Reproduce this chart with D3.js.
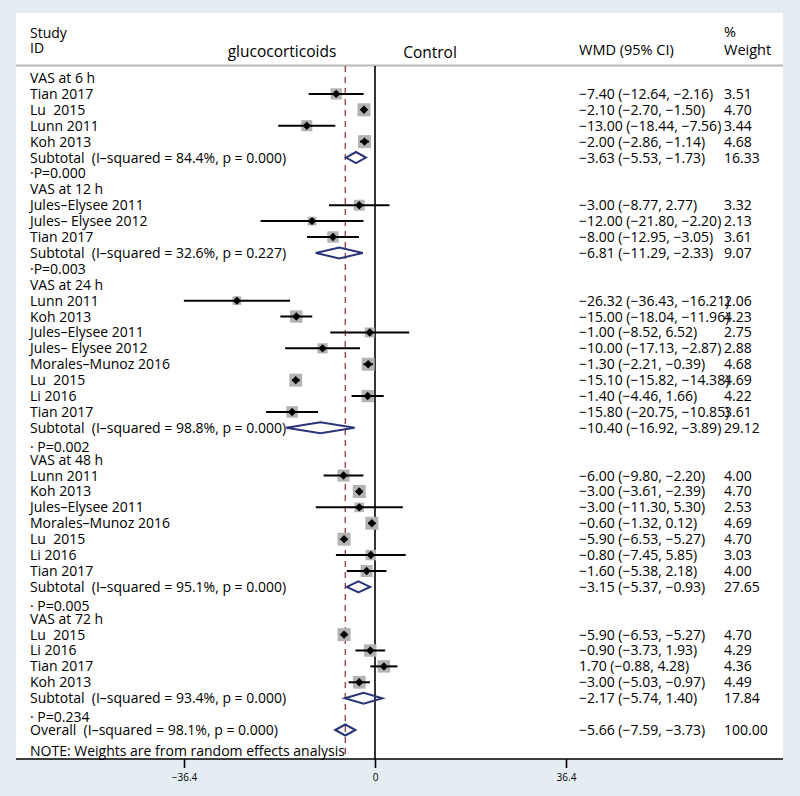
<!DOCTYPE html>
<html><head><meta charset="utf-8">
<script src="https://cdn.jsdelivr.net/npm/d3@7"></script>
<style>
html,body{margin:0;padding:0;background:#e4edf2;}
svg{display:block;}
text{font-family:"Open Sans","Noto Sans",sans-serif;fill:#000;white-space:pre;}
</style></head>
<body>
<script>
// ---------- data ----------
const groupLabels = ["VAS at 6 h","VAS at 12 h","VAS at 24 h","VAS at 48 h","VAS at 72 h"];
const studyNames = [
  ["Tian 2017","Lu  2015","Lunn 2011","Koh 2013"],
  ["Jules–Elysee 2011","Jules– Elysee 2012","Tian 2017"],
  ["Lunn 2011","Koh 2013","Jules–Elysee 2011","Jules– Elysee 2012","Morales–Munoz 2016","Lu  2015","Li 2016","Tian 2017"],
  ["Lunn 2011","Koh 2013","Jules–Elysee 2011","Morales–Munoz 2016","Lu  2015","Li 2016","Tian 2017"],
  ["Lu  2015","Li 2016","Tian 2017","Koh 2013"]
];
const studyEst = [
  [-7.40,-2.10,-13.00,-2.00],
  [-3.00,-12.00,-8.00],
  [-26.32,-15.00,-1.00,-10.00,-1.30,-15.10,-1.40,-15.80],
  [-6.00,-3.00,-3.00,-0.60,-5.90,-0.80,-1.60],
  [-5.90,-0.90,1.70,-3.00]
];
const studyLo = [
  [-12.64,-2.70,-18.44,-2.86],
  [-8.77,-21.80,-12.95],
  [-36.43,-18.04,-8.52,-17.13,-2.21,-15.82,-4.46,-20.75],
  [-9.80,-3.61,-11.30,-1.32,-6.53,-7.45,-5.38],
  [-6.53,-3.73,-0.88,-5.03]
];
const studyHi = [
  [-2.16,-1.50,-7.56,-1.14],
  [2.77,-2.20,-3.05],
  [-16.21,-11.96,6.52,-2.87,-0.39,-14.38,1.66,-10.85],
  [-2.20,-2.39,5.30,0.12,-5.27,5.85,2.18],
  [-5.27,1.93,4.28,-0.97]
];
const studyWeight = [
  [3.51,4.70,3.44,4.68],
  [3.32,2.13,3.61],
  [2.06,4.23,2.75,2.88,4.68,4.69,4.22,3.61],
  [4.00,4.70,2.53,4.69,4.70,3.03,4.00],
  [4.70,4.29,4.36,4.49]
];
const subtotalLabels = [
  "Subtotal  (I–squared = 84.4%, p = 0.000)",
  "Subtotal  (I–squared = 32.6%, p = 0.227)",
  "Subtotal  (I–squared = 98.8%, p = 0.000)",
  "Subtotal  (I–squared = 95.1%, p = 0.000)",
  "Subtotal  (I–squared = 93.4%, p = 0.000)"
];
const subtotalEst = [-3.63,-6.81,-10.40,-3.15,-2.17];
const subtotalLo  = [-5.53,-11.29,-16.92,-5.37,-5.74];
const subtotalHi  = [-1.73,-2.33,-3.89,-0.93,1.40];
const subtotalWeight = [16.33,9.07,29.12,27.65,17.84];
const pLabels = ["·P=0.000","·P=0.003","· P=0.002","· P=0.005","· P=0.234"];
const overallLabel = "Overall  (I–squared = 98.1%, p = 0.000)";
const overallEst = -5.66, overallLo = -7.59, overallHi = -3.73, overallWeight = 100.00;
const noteLabel = "NOTE: Weights are from random effects analysis";
const tickValues = [-36.4, 0, 36.4];
const tickLabels = ["−36.4", "0", "36.4"];

// ---------- rows ----------
const rows = [];
groupLabels.forEach((g, gi) => {
  rows.push({type:"group", label:g});
  studyNames[gi].forEach((n, si) => rows.push({type:"study", label:n,
    est:studyEst[gi][si], lo:studyLo[gi][si], hi:studyHi[gi][si], w:studyWeight[gi][si]}));
  rows.push({type:"sub", label:subtotalLabels[gi], est:subtotalEst[gi], lo:subtotalLo[gi], hi:subtotalHi[gi], w:subtotalWeight[gi]});
  rows.push({type:"p", label:pLabels[gi]});
});
rows.push({type:"sub", label:overallLabel, est:overallEst, lo:overallLo, hi:overallHi, w:overallWeight});

const W = 800, H = 796;
const FS = 14;
const svg = d3.select("body").append("svg").attr("width", W).attr("height", H);

// panel
svg.append("rect").attr("x",16).attr("y",13).attr("width",767).attr("height",746).attr("fill","#fff");

const x = d3.scaleLinear().domain([-36.4, 36.4]).range([184, 566]);
const y = d3.scaleLinear().domain([0, 41]).range([78, 730]);
const fmt = v => (v < 0 ? "−" : "") + Math.abs(v).toFixed(2);
const ciText = d => `${fmt(d.est)} (${fmt(d.lo)}, ${fmt(d.hi)})`;

// header
const hdr = svg.append("g");
hdr.append("text").attr("x",30).attr("y",38).attr("font-size",14).text("Study");
hdr.append("text").attr("x",30).attr("y",53).attr("font-size",14).text("ID");
hdr.append("text").attr("x",282).attr("y",57).attr("font-size",15.5).attr("text-anchor","middle").text("glucocorticoids");
hdr.append("text").attr("x",430).attr("y",58).attr("font-size",15.5).attr("text-anchor","middle").text("Control");
hdr.append("text").attr("x",579).attr("y",55).attr("font-size",14.5).text("WMD (95% CI)");
hdr.append("text").attr("x",724).attr("y",37).attr("font-size",14.5).text("%");
hdr.append("text").attr("x",724).attr("y",55).attr("font-size",14.5).text("Weight");
svg.append("line").attr("x1",16).attr("x2",783).attr("y1",65.5).attr("y2",65.5)
  .attr("stroke","#b8b8b8").attr("stroke-width",2);

// reference lines
const axisY = 759;
svg.append("line").attr("x1",x(0)).attr("x2",x(0)).attr("y1",66).attr("y2",axisY)
  .attr("stroke","#000").attr("stroke-width",1.6);
svg.append("line").attr("x1",x(overallEst)).attr("x2",x(overallEst)).attr("y1",66).attr("y2",axisY)
  .attr("stroke","#a4444c").attr("stroke-width",1.4).attr("stroke-dasharray","6,5");

// labels
const rowY = (d,i) => y(i) + (d.type === "p" && d.label.startsWith("· ") ? 3 : 0);
svg.append("g").attr("font-size",FS).selectAll("text").data(rows).join("text")
  .attr("x",30).attr("y",(d,i)=>rowY(d,i)+5).text(d=>d.label);

const valRows = rows.map((d,i)=>({...d, i})).filter(d=>d.type==="study"||d.type==="sub");
svg.append("g").attr("font-size",FS).selectAll("text").data(valRows).join("text")
  .attr("x",579).attr("y",d=>y(d.i)+5).text(ciText);
svg.append("g").attr("font-size",FS).selectAll("text").data(valRows).join("text")
  .attr("x",724).attr("y",d=>y(d.i)+5).text(d=>d.w.toFixed(2));

// study marks
const st = valRows.filter(d=>d.type==="study");
svg.append("g").selectAll("rect").data(st).join("rect")
  .attr("x",d=>x(d.est)-3*Math.sqrt(d.w)).attr("y",d=>y(d.i)-3*Math.sqrt(d.w))
  .attr("width",d=>6*Math.sqrt(d.w)).attr("height",d=>6*Math.sqrt(d.w))
  .attr("fill","#b3b3b3");
svg.append("g").selectAll("line").data(st).join("line")
  .attr("x1",d=>x(d.lo)).attr("x2",d=>x(d.hi)).attr("y1",d=>y(d.i)).attr("y2",d=>y(d.i))
  .attr("stroke","#000").attr("stroke-width",2);
svg.append("g").selectAll("path").data(st).join("path")
  .attr("d",d=>{const cx=x(d.est), cy=y(d.i), r=4.2; return `M${cx-r},${cy}L${cx},${cy-r}L${cx+r},${cy}L${cx},${cy+r}Z`;})
  .attr("fill","#000");

// pooled diamonds
const sb = valRows.filter(d=>d.type==="sub");
svg.append("g").selectAll("path").data(sb).join("path")
  .attr("d",d=>{const cy=y(d.i), h=5.5; return `M${x(d.lo)},${cy}L${x(d.est)},${cy-h}L${x(d.hi)},${cy}L${x(d.est)},${cy+h}Z`;})
  .attr("fill","none").attr("stroke","#2a3578").attr("stroke-width",2);

// note
svg.append("text").attr("x",30).attr("y",756).attr("font-size",FS).text(noteLabel);

// axis
const axis = d3.axisBottom(x).tickValues(tickValues).tickSize(9).tickPadding(6)
  .tickFormat((d,i)=>tickLabels[i]);
const ag = svg.append("g").attr("transform",`translate(0,${axisY})`).call(axis);
ag.select(".domain").remove();
ag.selectAll(".tick line").attr("stroke","#000").attr("stroke-width",1.6);
ag.selectAll(".tick text").attr("font-size",10).attr("font-family","'Open Sans',sans-serif").attr("fill","#111");
svg.append("line").attr("x1",16).attr("x2",783).attr("y1",axisY).attr("y2",axisY)
  .attr("stroke","#000").attr("stroke-width",1.6);
</script>
</body></html>
